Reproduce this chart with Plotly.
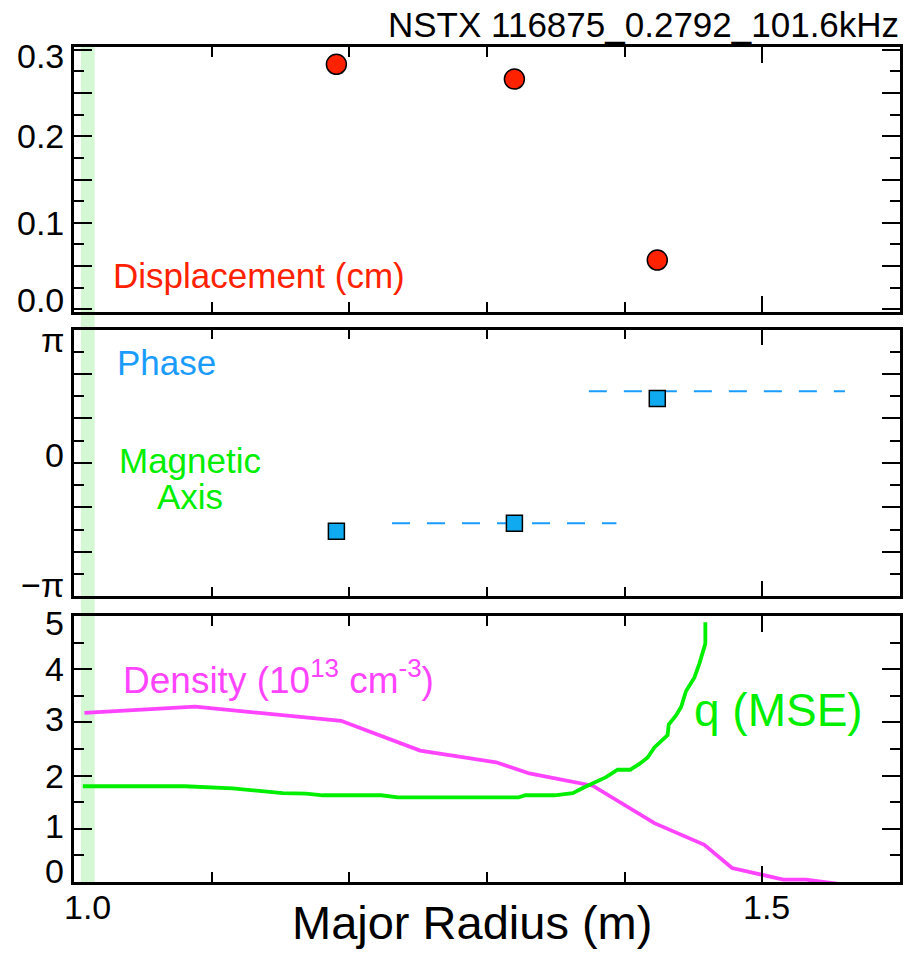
import math
import plotly.graph_objects as go

PI = math.pi

# Major radius of the three measurement channels (m)
R_channels = [1.1906, 1.3199, 1.4237]
displacement_cm = [0.283, 0.266, 0.057]
phase_rad = [-1.61, -1.42, 1.52]

# Reference phase levels (dashed)
phase_ref_low_R = [1.231, 1.394]
phase_ref_low = [-1.42, -1.42]
phase_ref_high_R = [1.374, 1.560]
phase_ref_high = [1.69, 1.69]

# Electron density profile (10^13 cm^-3)
density_R = [1.0076, 1.088, 1.194, 1.2514, 1.3066, 1.3308, 1.3768, 1.4216,
             1.4579, 1.478, 1.5152, 1.5317, 1.5596]
density = [3.18, 3.295, 3.03, 2.47, 2.25, 2.04, 1.81, 1.106,
           0.70, 0.263, 0.045, 0.045, -0.05]

# Safety factor from MSE
q_R = [1.0064, 1.0802, 1.1153, 1.1516, 1.1686, 1.1807, 1.2231, 1.2352, 1.323,
       1.328, 1.349, 1.3623, 1.3707, 1.3792, 1.3865, 1.3949, 1.4039, 1.4107,
       1.4167, 1.4216, 1.4252, 1.4312, 1.432, 1.4373, 1.441, 1.4446, 1.4506,
       1.4542, 1.4586, 1.4586]
q_mse = [1.80, 1.80, 1.76, 1.67, 1.66, 1.63, 1.63, 1.59, 1.59,
         1.63, 1.63, 1.67, 1.78, 1.89, 1.97, 2.11, 2.11, 2.22,
         2.34, 2.53, 2.61, 2.76, 2.96, 3.13, 3.29, 3.59, 3.84,
         4.10, 4.48, 4.88]

# Magnetic axis location (m)
mag_axis_R = [1.005, 1.015]

# Axis ticks (long ticks) and the labelled values
x_ticks = [1.0, 1.5]
x_labels = ["1.0", "1.5"]
disp_ticks = [0.0, 0.05, 0.1, 0.15, 0.2, 0.25, 0.3]
disp_label_vals = [0.0, 0.1, 0.2, 0.3]
disp_labels = ["0.0", "0.1", "0.2", "0.3"]
phase_ticks = [-PI, -2 * PI / 3, -PI / 3, 0, PI / 3, 2 * PI / 3, PI]
phase_label_vals = [-PI, 0, PI]
phase_labels = ["\u2212\u03c0", "0", "\u03c0"]
dens_ticks = [0, 1, 2, 3, 4, 5]
dens_labels = ["0", "1", "2", "3", "4", "5"]

FONT = "Liberation Sans, Arial, Helvetica, sans-serif"
RED = "#ff2200"
BLUE = "#1a9cff"
GREEN = "#00ee00"
MAGENTA = "#ff44ff"
TICK_SIZE = 34

fig = go.Figure()

fig.add_trace(go.Scatter(
    x=R_channels, y=displacement_cm, mode="markers", xaxis="x", yaxis="y",
    marker=dict(symbol="circle", size=20, color=RED,
                line=dict(color="black", width=1.5)),
    showlegend=False))

fig.add_trace(go.Scatter(
    x=phase_ref_low_R, y=phase_ref_low, mode="lines", xaxis="x2", yaxis="y2",
    line=dict(color=BLUE, width=2, dash="18px,17px"), showlegend=False))
fig.add_trace(go.Scatter(
    x=phase_ref_high_R, y=phase_ref_high, mode="lines", xaxis="x2", yaxis="y2",
    line=dict(color=BLUE, width=2, dash="18px,17px"), showlegend=False))
fig.add_trace(go.Scatter(
    x=R_channels, y=phase_rad, mode="markers", xaxis="x2", yaxis="y2",
    marker=dict(symbol="square", size=16, color="#10aaf0",
                line=dict(color="black", width=1.5)),
    showlegend=False))

fig.add_trace(go.Scatter(
    x=density_R, y=density, mode="lines", xaxis="x3", yaxis="y3",
    line=dict(color=MAGENTA, width=3.8), showlegend=False))
fig.add_trace(go.Scatter(
    x=q_R, y=q_mse, mode="lines", xaxis="x3", yaxis="y3",
    line=dict(color=GREEN, width=3.8), showlegend=False))

xcommon = dict(
    range=[1.0, 1.6], showline=True, linewidth=2.5, linecolor="black",
    mirror="allticks", ticks="inside", ticklen=16, tickwidth=2,
    tickcolor="black", tickmode="array", tickvals=x_ticks,
    showticklabels=False, showgrid=False, zeroline=False,
    minor=dict(ticks="inside", tick0=1.0, dtick=0.1, ticklen=10,
               tickwidth=2, tickcolor="black", showgrid=False),
)
ycommon = dict(
    showline=True, linewidth=2.5, linecolor="black", mirror="allticks",
    ticks="inside", ticklen=18, tickwidth=2, tickcolor="black",
    showgrid=False, zeroline=False, showticklabels=False, tickmode="array",
)

fig.update_layout(
    width=915, height=961,
    margin=dict(l=74, r=13, t=47, b=79),
    paper_bgcolor="white", plot_bgcolor="rgba(0,0,0,0)",
    font=dict(family=FONT, color="black"),
    xaxis=dict(xcommon, anchor="y", matches="x3"),
    xaxis2=dict(xcommon, anchor="y2", matches="x3"),
    xaxis3=dict(xcommon, anchor="y3"),
    yaxis=dict(ycommon, domain=[0.6826, 1.0], anchor="x",
               range=[-0.003, 0.303], tickvals=disp_ticks,
               minor=dict(ticks="inside", tick0=0, dtick=0.025, ticklen=10,
                          tickwidth=2, tickcolor="black", showgrid=False)),
    yaxis2=dict(ycommon, domain=[0.3422, 0.6616], anchor="x2",
                range=[-PI, PI], tickvals=phase_ticks,
                minor=dict(ticks="inside", tick0=-PI, dtick=PI / 6,
                           ticklen=10, tickwidth=2, tickcolor="black",
                           showgrid=False)),
    yaxis3=dict(ycommon, domain=[0.0, 0.3186], anchor="x3",
                range=[0, 5], tickvals=dens_ticks,
                minor=dict(ticks="inside", tick0=0, dtick=0.5, ticklen=10,
                           tickwidth=2, tickcolor="black", showgrid=False)),
)

# Magnetic axis band spanning all three panels
fig.add_shape(type="rect", xref="x3", yref="paper",
              x0=mag_axis_R[0], x1=mag_axis_R[1], y0=0, y1=1,
              fillcolor="#d4f8d4", line=dict(width=0), layer="below")

# Vertical-axis labels; the ones at the panel ends are nudged inward
y_label_sets = [
    ("y", disp_label_vals, disp_labels, {0.3: -6, 0.0: 9}),
    ("y2", phase_label_vals, phase_labels, {PI: -10, 0: 8, -PI: 11}),
    ("y3", dens_ticks, dens_labels, {5: -7, 0: 11, 3: 3, 1: 3}),
]
for yref, vals, texts, shifts in y_label_sets:
    for val, text in zip(vals, texts):
        fig.add_annotation(text=text, xref="paper", yref=yref, x=0, y=val,
                           xanchor="right", yanchor="middle", xshift=-8,
                           yshift=shifts.get(val, 0), showarrow=False,
                           font=dict(family=FONT, size=TICK_SIZE,
                                     color="black"))

# Radius tick labels below the bottom panel
for xval, text, xs in zip(x_ticks, x_labels, [13, 4]):
    fig.add_annotation(text=text, xref="x3", yref="paper", x=xval, y=0,
                       xanchor="center", yanchor="middle", xshift=xs,
                       yshift=-25, showarrow=False,
                       font=dict(family=FONT, size=TICK_SIZE, color="black"))

annotations = [
    dict(text="NSTX 116875_0.2792_101.6kHz", xref="paper", yref="paper",
         x=1.0, y=1.0, xanchor="right", yanchor="middle", yshift=23,
         xshift=1, font=dict(size=35, color="black")),
    dict(text="Displacement (cm)", xref="x", yref="y", x=1.0272, y=0.0397,
         xanchor="left", yanchor="middle", font=dict(size=35, color=RED)),
    dict(text="Phase", xref="x2", yref="y2", x=1.0301, y=2.372,
         xanchor="left", yanchor="middle", font=dict(size=35, color=BLUE)),
    dict(text="Magnetic", xref="x2", yref="y2", x=1.0845, y=0.052,
         xanchor="center", yanchor="middle", font=dict(size=35, color=GREEN)),
    dict(text="Axis", xref="x2", yref="y2", x=1.0845, y=-0.801,
         xanchor="center", yanchor="middle", font=dict(size=35, color=GREEN)),
    dict(text="Density (10<sup>13</sup> cm<sup>-3</sup>)", xref="x3", yref="y3",
         x=1.0345, y=3.84, xanchor="left", yanchor="middle",
         font=dict(size=37, color=MAGENTA)),
    dict(text="q (MSE)", xref="x3", yref="y3", x=1.449, y=3.24,
         xanchor="left", yanchor="middle", font=dict(size=46, color=GREEN)),
    dict(text="Major Radius (m)", xref="paper", yref="paper", x=0.4816, y=0.0,
         xanchor="center", yanchor="middle", yshift=-40,
         font=dict(size=47, color="black")),
]
for a in annotations:
    a["showarrow"] = False
    a["font"]["family"] = FONT
    fig.add_annotation(**a)

fig.write_html("out.html")
